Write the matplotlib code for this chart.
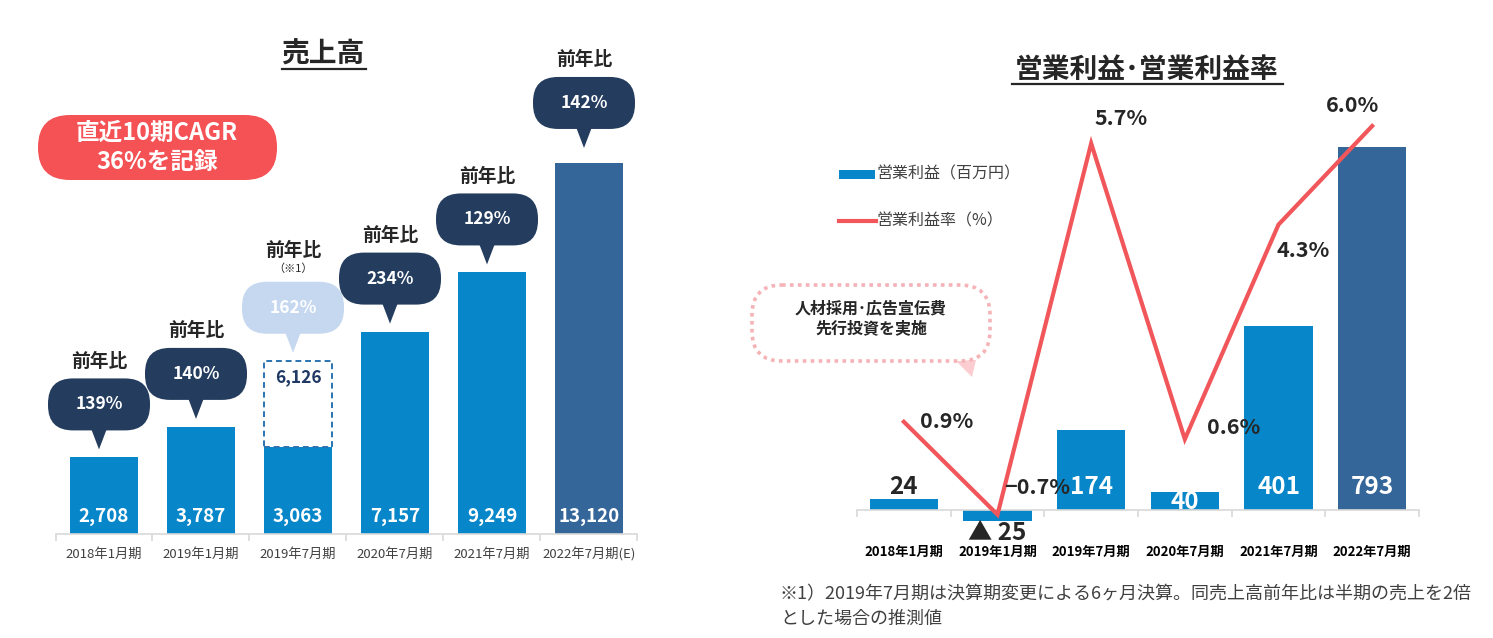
import matplotlib
matplotlib.use("agg")
import matplotlib.pyplot as plt
from matplotlib.patches import FancyBboxPatch, Polygon, Rectangle
from matplotlib.lines import Line2D
from matplotlib.transforms import ScaledTranslation

plt.rcParams["font.family"] = ["Noto Sans CJK JP", "DejaVu Sans"]

# ---- data ----
sales_periods = ["2018年1月期", "2019年1月期", "2019年7月期", "2020年7月期", "2021年7月期", "2022年7月期(E)"]
sales = [2708, 3787, 3063, 7157, 9249, 13120]
sales_labels = ["2,708", "3,787", "3,063", "7,157", "9,249", "13,120"]
sales_doubled = 6126  # 2019年7月期 annualised estimate
yoy = ["139%", "140%", "162%", "234%", "129%", "142%"]

op_periods = ["2018年1月期", "2019年1月期", "2019年7月期", "2020年7月期", "2021年7月期", "2022年7月期"]
op_profit = [24, -25, 174, 40, 401, 793]
op_labels = ["24", "▲ 25", "174", "40", "401", "793"]
op_margin = [0.9, -0.7, 5.7, 0.6, 4.3, 6.0]
margin_labels = ["0.9%", "−0.7%", "5.7%", "0.6%", "4.3%", "6.0%"]

W, H = 1493, 638
BLUE = "#0787c9"
DARK_BLUE = "#346699"
NAVY = "#243d5f"
LIGHT = "#c5d8f0"
RED = "#f0565a"
TXT = "#262626"

fig = plt.figure(figsize=(W / 100, H / 100), dpi=100)


def frac(x0, y_top, x1, y_bot):
    return [x0 / W, (H - y_bot) / H, (x1 - x0) / W, (y_bot - y_top) / H]


def to_px(ax, x, y):
    dx, dy = ax.transData.transform((x, y))
    return dx, H - dy


def shift(ax, dx, dy):
    # offset in pixels (dy up positive) on top of data coords
    return ax.transData + ScaledTranslation(dx / 100, dy / 100, fig.dpi_scale_trans)


# ---- left: sales ----
ax1 = fig.add_axes(frac(55.5, 40, 637.5, 534))
xs = list(range(len(sales)))
colors1 = [BLUE] * 5 + [DARK_BLUE]
ax1.bar(xs, sales, width=0.71, color=colors1, zorder=2)
ax1.bar(2, sales_doubled - sales[2], bottom=sales[2], width=0.71, facecolor="white",
        edgecolor="#2a73b0", linestyle=(0, (3, 2)), linewidth=1.4, zorder=2)
ax1.set_xlim(-0.5, 5.5)
ax1.set_ylim(0, 17468)
ax1.set_yticks([])
for s in ["top", "left", "right"]:
    ax1.spines[s].set_visible(False)
ax1.spines["bottom"].set_color("#d9d9d9")
ax1.spines["bottom"].set_linewidth(1.2)
ax1.set_xticks(xs, sales_periods, fontsize=9.5, color="#404040")
ax1.tick_params(axis="x", which="major", length=0, pad=10)
ax1.set_xticks([x + 0.5 for x in [-1] + xs], minor=True)
ax1.tick_params(axis="x", which="minor", length=5, color="#d9d9d9", width=1.2)
ax1.patch.set_alpha(0)

for x, lab in zip(xs, sales_labels):
    ax1.text(x, 0, lab, ha="center", va="center", color="white", fontsize=13.5,
             fontweight="bold", transform=shift(ax1, 0, 18))
ax1.text(2, sales_doubled, "6,126", ha="center", va="center", color="#1f3864", fontsize=12.5,
         fontweight="bold", transform=shift(ax1, 0, -16))

# ---- right: operating profit ----
ax2 = fig.add_axes(frac(857, 90, 1419, 560))
colors2 = [BLUE] * 5 + [DARK_BLUE]
ax2.bar(xs, op_profit, width=0.73, color=colors2, zorder=2)
ax2.set_xlim(-0.5, 5.5)
ax2.set_ylim(-109.2, 917.4)
ax2.set_yticks([])
for s in ["top", "left", "right"]:
    ax2.spines[s].set_visible(False)
ax2.spines["bottom"].set_position(("data", 0))
ax2.spines["bottom"].set_color("#d9d9d9")
ax2.spines["bottom"].set_linewidth(1.2)
ax2.set_xticks(xs, op_periods, fontsize=9.5, fontweight="bold", color="black")
ax2.tick_params(axis="x", which="major", length=0, pad=25)
ax2.set_xticks([x + 0.5 for x in [-1] + xs], minor=True)
ax2.tick_params(axis="x", which="minor", length=5, color="#d9d9d9", width=1.2)
ax2.patch.set_alpha(0)

# bar value labels: offset (px, up positive) from baseline / bar end
for x, v, lab in zip(xs, op_profit, op_labels):
    if x == 0:
        y, off, c = v, 12, TXT
    elif x == 1:
        y, off, c = v, -12, TXT
    elif x == 3:
        y, off, c = 0, 8, "white"
    else:
        y, off, c = 0, 23, "white"
    ax2.text(x, y, lab, ha="center", va="center", color=c, fontsize=17.5, fontweight="bold",
             zorder=4, transform=shift(ax2, 0, off))

ax3 = ax2.twinx()
ax3.set_ylim(-1.483, 6.621)
ax3.axis("off")
ax3.plot(xs, op_margin, color=RED, linewidth=3, zorder=5, solid_joinstyle="miter")
margin_offsets = [(16, 0, "left"), (7, 27, "left"), (3, 25, "left"),
                  (22, 12, "left"), (-2, -26, "left"), (7, 21, "right")]
for x, v, lab, (dx, dy, ha) in zip(xs, op_margin, margin_labels, margin_offsets):
    ax3.text(x, v, lab, ha=ha, va="center", color=TXT, fontsize=15.5, fontweight="bold",
             zorder=6, transform=shift(ax3, dx, dy))

# ---- overlay in pixel coordinates for callouts and titles ----
ov = fig.add_axes([0, 0, 1, 1])
ov.set_xlim(0, W)
ov.set_ylim(H, 0)
ov.axis("off")
ov.set_zorder(10)


def bubble(cx, tip_y, face, text):
    bw, bh = 102, 52
    bot = tip_y - 19
    top = bot - bh
    ov.add_patch(FancyBboxPatch((cx - bw / 2, top), bw, bh,
                                boxstyle="round,pad=0,rounding_size=25",
                                facecolor=face, edgecolor="none"))
    ov.add_patch(Polygon([(cx - 8, bot - 2), (cx + 8, bot - 2), (cx, tip_y)],
                         closed=True, facecolor=face, edgecolor="none"))
    ov.text(cx, top + bh / 2, text, ha="center", va="center", color="white",
            fontsize=12.5, fontweight="bold")
    return top


for x, v, lab in zip(xs, sales, yoy):
    top_val = sales_doubled if x == 2 else v
    bx, by = to_px(ax1, x, top_val)
    tip = by - (15 if x == 5 else 8)
    face = LIGHT if x == 2 else NAVY
    top = bubble(bx - 5, tip, face, lab)
    if x == 2:
        ov.text(bx - 5, top - 31, "前年比", ha="center", va="center", color=TXT,
                fontsize=13.5, fontweight="bold")
        ov.text(bx - 5, top - 13, "（※1）", ha="center", va="center", color=TXT, fontsize=8)
    else:
        ov.text(bx - 5, top - 17, "前年比", ha="center", va="center", color=TXT,
                fontsize=13.5, fontweight="bold")

# titles
ov.text(323, 55, "売上高", ha="center", va="center", fontsize=20, fontweight="bold", color=TXT)
ov.add_line(Line2D([282, 366], [69, 69], color=TXT, linewidth=1.6))
ov.text(1147, 70, "営業利益･営業利益率", ha="center", va="center", fontsize=20,
        fontweight="bold", color=TXT)
ov.add_line(Line2D([1012, 1283], [84, 84], color=TXT, linewidth=1.6))

# CAGR pill
ov.add_patch(FancyBboxPatch((38, 115), 239, 65, boxstyle="round,pad=0,rounding_size=32",
                            facecolor="#f55256", edgecolor="none"))
ov.text(157, 133, "直近10期CAGR", ha="center", va="center", color="white",
        fontsize=17, fontweight="bold")
ov.text(157, 162, "36%を記録", ha="center", va="center", color="white",
        fontsize=17, fontweight="bold")

# legend
ov.add_patch(Rectangle((839, 170), 36, 9, facecolor=BLUE, edgecolor="none"))
ov.text(877, 174, "営業利益（百万円）", ha="left", va="center", fontsize=11.5, color="#404040")
ov.add_line(Line2D([839, 876], [221, 221], color=RED, linewidth=3))
ov.text(877, 221, "営業利益率（%）", ha="left", va="center", fontsize=11.5, color="#404040")

# dotted note box
ov.add_patch(Polygon([(955, 360), (976, 360), (972, 377)], closed=True,
                     facecolor="#fbcdd0", edgecolor="none"))
ov.add_patch(FancyBboxPatch((752, 285), 238, 76, boxstyle="round,pad=0,rounding_size=30",
                            facecolor="white", edgecolor="#f5b3b7", linewidth=2.6,
                            linestyle=(0, (1, 1.2))))
ov.text(871, 308, "人材採用･広告宣伝費", ha="center", va="center", fontsize=11.5,
        fontweight="bold", color=TXT)
ov.text(871, 328, "先行投資を実施", ha="center", va="center", fontsize=11.5,
        fontweight="bold", color=TXT)

# footnote
ov.text(780, 594, "※1）2019年7月期は決算期変更による6ヶ月決算。同売上高前年比は半期の売上を2倍",
        ha="left", va="center", fontsize=13, color="#404040")
ov.text(780, 619, "とした場合の推測値", ha="left", va="center", fontsize=13, color="#404040")

fig.savefig("out.png", dpi=100)
